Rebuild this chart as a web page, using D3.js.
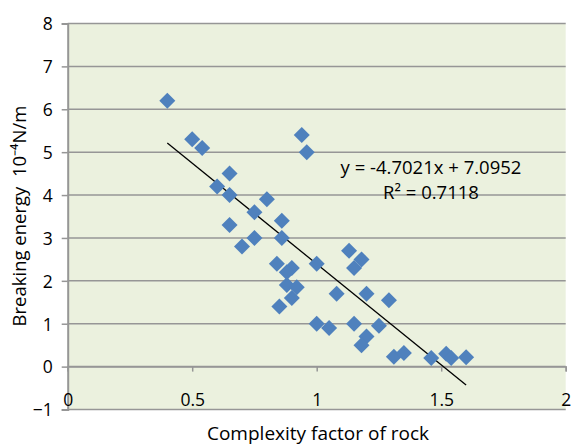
<!DOCTYPE html>
<head>
    <meta charset="utf-8">
    <title>Breaking energy vs complexity factor</title>
    <script src="https://d3js.org/d3.v7.min.js"></script>
    <style>
        body { margin: 0; background: #fff; }
        text { font-family: "Open Sans", sans-serif; fill: #000; white-space: pre; }
    </style>
</head>
<body>
    <div id="container"></div>
    <script>
        //------------------------1. DATA------------------------//
        var complexity = [0.40, 0.50, 0.54, 0.94, 0.96, 0.65, 0.60, 0.65, 0.80, 0.75,
                          0.65, 0.86, 0.75, 0.70, 0.86, 0.84, 0.90, 0.88, 0.88, 0.92,
                          0.90, 0.85, 1.00, 1.13, 1.18, 1.15, 1.08, 1.20, 1.29, 1.00,
                          1.05, 1.15, 1.25, 1.20, 1.18, 1.31, 1.35, 1.46, 1.52, 1.54, 1.60];
        var energy = [6.2, 5.3, 5.1, 5.4, 5.0, 4.5, 4.2, 4.0, 3.9, 3.6,
                      3.3, 3.4, 3.0, 2.8, 3.0, 2.4, 2.3, 2.2, 1.9, 1.85,
                      1.6, 1.4, 2.4, 2.7, 2.5, 2.3, 1.7, 1.7, 1.55, 1.0,
                      0.9, 1.0, 0.95, 0.7, 0.5, 0.23, 0.32, 0.2, 0.3, 0.2, 0.22];
        var xTicks = [0, 0.5, 1, 1.5, 2];
        var yTicks = [-1, 0, 1, 2, 3, 4, 5, 6, 7, 8];
        var slope = -4.7021, intercept = 7.0952, rSquared = 0.7118;

        var points = complexity.map(function (c, i) { return { x: c, y: energy[i] }; });

        //------------------------2. SVG------------------------//
        var W = 571, H = 446;
        var plot = { left: 67.7, right: 565.7, top: 23.5, bottom: 409.5 };
        var grey = "#969696";

        var x = d3.scaleLinear().domain([0, 2]).range([plot.left, plot.right]);
        var y = d3.scaleLinear().domain([-1, 8]).range([plot.bottom, plot.top]);

        var svg = d3.select("#container").append("svg")
            .attr("width", W).attr("height", H);

        // plot area
        svg.append("rect")
            .attr("x", plot.left).attr("y", plot.top)
            .attr("width", plot.right - plot.left).attr("height", plot.bottom - plot.top)
            .style("fill", "#EBF1DE");

        // gridlines
        svg.append("g").selectAll("line")
            .data(yTicks)
            .enter().append("line")
            .attr("x1", plot.left).attr("x2", plot.right)
            .attr("y1", function (d) { return y(d); })
            .attr("y2", function (d) { return y(d); })
            .style("stroke", grey).style("stroke-width", 1.5);

        //------------------------3. AXES------------------------//
        var yAxis = svg.append("g")
            .attr("transform", "translate(" + plot.left + ",0)")
            .call(d3.axisLeft(y).tickValues(yTicks).tickSize(6).tickPadding(9).tickFormat(d3.format("d")));
        yAxis.select(".domain").style("stroke", grey).style("stroke-width", 2);
        yAxis.selectAll(".tick line").style("stroke", grey).style("stroke-width", 1.5);
        yAxis.selectAll("text").style("font-size", "17.5px").attr("dy", "0.36em");

        var xAxis = svg.append("g")
            .attr("transform", "translate(0," + y(0) + ")")
            .call(d3.axisBottom(x).tickValues(xTicks).tickSize(5).tickFormat(function (d) { return d; }));
        xAxis.select(".domain").style("stroke", grey).style("stroke-width", 1.5);
        xAxis.selectAll(".tick line").style("stroke", grey).style("stroke-width", 1.5);
        xAxis.selectAll("text").style("font-size", "17.5px").attr("y", 39).attr("dy", 0);

        //------------------------4. MARKS------------------------//
        var xr = d3.extent(complexity);
        svg.append("line")
            .attr("x1", x(xr[0])).attr("y1", y(slope * xr[0] + intercept))
            .attr("x2", x(xr[1])).attr("y2", y(slope * xr[1] + intercept))
            .style("stroke", "#000").style("stroke-width", 1.3);

        svg.append("g").selectAll("path")
            .data(points)
            .enter().append("path")
            .attr("d", d3.symbol(d3.symbolSquare, 128))
            .attr("transform", function (d) { return "translate(" + x(d.x) + "," + y(d.y) + ") rotate(45)"; })
            .style("fill", "#4F81BD");

        //------------------------5. LABELS------------------------//
        svg.append("text")
            .attr("x", 431).attr("y", 174)
            .attr("text-anchor", "middle")
            .style("font-size", "18.5px")
            .text("y = " + slope + "x + " + intercept);

        svg.append("text")
            .attr("x", 431).attr("y", 199)
            .attr("text-anchor", "middle")
            .style("font-size", "18.5px")
            .text("R\u00b2 = " + rSquared);

        svg.append("text")
            .attr("x", 318).attr("y", 440)
            .attr("text-anchor", "middle")
            .style("font-size", "19px")
            .text("Complexity factor of rock");

        svg.append("text")
            .attr("transform", "translate(26,216) rotate(-90)")
            .attr("text-anchor", "middle")
            .style("font-size", "18.5px")
            .text("Breaking energy  10\u207b\u2074N/m");
    </script>
</body>
